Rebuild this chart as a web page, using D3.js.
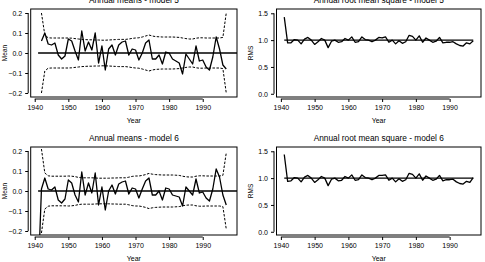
<!DOCTYPE html>
<meta charset="utf-8">
<script src="https://d3js.org/d3.v7.min.js"></script>
<style>
  body { margin: 0; background: #fff; }
  text { font-family: "Liberation Sans", Arial, sans-serif; fill: #000; }
</style>
<body>
<div id="my_dataviz"></div>
<script>

// years
var yearsMean = d3.range(1941, 1998);   // 1941..1997
var yearsRms = d3.range(1941, 1998);

// annual means, model 5 (no value for 1941)
var mean5 = [null,
  0.06, 0.10, 0.045, 0.04, 0.05, -0.01, -0.03, -0.015, 0.07, 0.06,
  0.01, -0.035, 0.11, 0.01, 0.055, 0.015, 0.10, -0.05, 0.035, -0.085,
  0.02, 0.04, -0.01, 0.04, 0.055, 0.06, -0.01, 0.02, 0.015, -0.035,
  0.0, 0.05, 0.065, -0.03, -0.03, -0.01, -0.055, 0.005, 0.0, -0.03,
  -0.04, -0.05, -0.105, -0.005, -0.03, -0.055, 0.035, -0.04, -0.035, -0.07,
  -0.085, -0.02, 0.08, 0.02, -0.06, -0.08];

// annual means, model 6 (1941 far below the plot)
var mean6 = [-0.45,
  0.01, 0.065, 0.01, 0.005, 0.02, -0.045, -0.06, -0.04, 0.055, 0.04,
  -0.02, -0.055, 0.095, -0.02, 0.04, -0.01, 0.09, -0.07, 0.02, -0.095,
  0.0, 0.03, -0.015, 0.035, 0.045, 0.05, -0.015, 0.015, 0.01, -0.035,
  0.01, 0.05, 0.065, -0.02, -0.02, 0.0, -0.045, 0.015, 0.01, -0.02,
  -0.025, -0.03, -0.075, 0.02, 0.0, -0.02, 0.06, -0.01, -0.005, -0.035,
  -0.05, 0.01, 0.11, 0.07, -0.02, -0.07];

// confidence bounds (+/-), model 5 and 6
var bound5 = [null,
  0.20, 0.09, 0.076, 0.075, 0.075, 0.075, 0.075, 0.075, 0.075, 0.074,
  0.072, 0.070, 0.068, 0.067, 0.066, 0.066, 0.065, 0.065, 0.064, 0.064,
  0.065, 0.066, 0.067, 0.068, 0.068, 0.068, 0.070, 0.073, 0.075, 0.076,
  0.080, 0.085, 0.090, 0.085, 0.082, 0.081, 0.080, 0.080, 0.080, 0.080,
  0.079, 0.078, 0.075, 0.072, 0.070, 0.070, 0.074, 0.076, 0.076, 0.075,
  0.075, 0.075, 0.075, 0.075, 0.078, 0.20];
var bound6 = [null,
  0.21, 0.09, 0.076, 0.074, 0.074, 0.074, 0.074, 0.074, 0.075, 0.074,
  0.072, 0.068, 0.066, 0.066, 0.066, 0.066, 0.065, 0.064, 0.064, 0.064,
  0.064, 0.065, 0.065, 0.066, 0.066, 0.066, 0.069, 0.073, 0.075, 0.075,
  0.078, 0.082, 0.088, 0.084, 0.082, 0.081, 0.080, 0.080, 0.080, 0.080,
  0.079, 0.078, 0.074, 0.071, 0.070, 0.070, 0.074, 0.076, 0.076, 0.075,
  0.075, 0.075, 0.075, 0.075, 0.078, 0.19];

// annual root mean square
var rms5 = [1.43,
  0.95, 0.95, 1.01, 1.0, 0.93, 1.02, 1.05, 1.0, 0.92, 0.97,
  1.03, 1.0, 0.86, 0.98, 1.0, 0.96, 0.97, 1.03, 1.0, 1.06,
  0.96, 0.97, 1.06, 1.01, 1.0, 0.97, 1.0, 1.05, 1.04, 1.06,
  0.96, 1.0, 0.93, 0.99, 0.94, 0.97, 1.09, 1.07, 1.0, 1.08,
  0.96, 1.04, 1.0, 0.96, 0.98, 1.05, 0.95, 0.96, 0.96, 0.97,
  0.93, 0.90, 0.89, 0.95, 0.93, 0.99];
var rms6 = [1.44,
  0.94, 0.95, 1.01, 1.0, 0.93, 1.02, 1.05, 1.0, 0.92, 0.97,
  1.03, 1.0, 0.86, 0.98, 1.0, 0.95, 0.96, 1.03, 1.0, 1.06,
  0.96, 0.97, 1.06, 1.01, 1.0, 0.97, 1.0, 1.05, 1.05, 1.06,
  0.96, 1.0, 0.93, 0.99, 0.94, 0.97, 1.09, 1.07, 1.0, 1.08,
  0.96, 1.04, 1.0, 0.96, 0.98, 1.05, 0.95, 0.97, 0.97, 0.98,
  0.93, 0.90, 0.89, 0.94, 0.92, 1.01];

var xTicks = [1940, 1950, 1960, 1970, 1980, 1990];
var meanTicks = [-0.2, -0.1, 0.0, 0.1, 0.2];
var rmsTicks = [0.0, 0.5, 1.0, 1.5];

var W = 485, H = 262;
var svg = d3.select("#my_dataviz").append("svg")
  .attr("width", W).attr("height", H);

// panel boxes
var panels = [
  {x0: 30.7, x1: 237, y0: 9, y1: 97, kind: "mean", title: "Annual means - model 5", vals: mean5, bnd: bound5},
  {x0: 276.5, x1: 481, y0: 9, y1: 97, kind: "rms", title: "Annual root mean square - model 5", vals: rms5},
  {x0: 30.7, x1: 237, y0: 147, y1: 235, kind: "mean", title: "Annual means - model 6", vals: mean6, bnd: bound6},
  {x0: 276.5, x1: 481, y0: 147, y1: 235, kind: "rms", title: "Annual root mean square - model 6", vals: rms6}
];

panels.forEach(function(p, i) {
  var isMean = p.kind == "mean";
  var x = d3.scaleLinear()
    .domain(isMean ? [1938.8, 2000.2] : [1938.7, 1999.3])
    .range([p.x0, p.x1]);
  var y = d3.scaleLinear()
    .domain(isMean ? [-0.22, 0.22] : [-0.06, 1.58])
    .range([p.y1, p.y0]);
  var years = isMean ? yearsMean : yearsRms;

  var clipId = "clip" + i;
  svg.append("clipPath").attr("id", clipId)
    .append("rect")
      .attr("x", p.x0).attr("y", p.y0)
      .attr("width", p.x1 - p.x0).attr("height", p.y1 - p.y0);

  var g = svg.append("g").attr("clip-path", "url(#" + clipId + ")");

  var line = d3.line()
    .defined(function(d) { return d[1] != null; })
    .x(function(d) { return x(d[0]); })
    .y(function(d) { return y(d[1]); });

  if (isMean) {
    // zero line
    g.append("line")
      .attr("x1", x(1941)).attr("x2", x(2000.2))
      .attr("y1", y(0)).attr("y2", y(0))
      .attr("stroke", "#000").attr("stroke-width", 1.3);
    // upper / lower bounds
    [1, -1].forEach(function(s) {
      g.append("path")
        .datum(years.map(function(yr, k) { return [yr, p.bnd[k] == null ? null : s * p.bnd[k]]; }))
        .attr("d", line)
        .attr("fill", "none").attr("stroke", "#000")
        .attr("stroke-width", 1).attr("stroke-dasharray", "2.5,1.5");
    });
  } else {
    g.append("line")
      .attr("x1", x(1941)).attr("x2", x(1997))
      .attr("y1", y(1)).attr("y2", y(1))
      .attr("stroke", "#000").attr("stroke-width", 1.2);
  }

  g.append("path")
    .datum(years.map(function(yr, k) { return [yr, p.vals[k]]; }))
    .attr("d", line)
    .attr("fill", "none").attr("stroke", "#000")
    .attr("stroke-width", 1.3).attr("stroke-linejoin", "round");

  // box
  svg.append("rect")
    .attr("x", p.x0).attr("y", p.y0)
    .attr("width", p.x1 - p.x0).attr("height", p.y1 - p.y0)
    .attr("fill", "none").attr("stroke", "#000").attr("stroke-width", 1);

  // x axis (offset slightly below box)
  var xa = svg.append("g")
    .attr("transform", "translate(0," + (p.y1 + 2) + ")")
    .call(d3.axisBottom(x).tickValues(xTicks).tickSize(3).tickPadding(3)
      .tickFormat(d3.format("d")));
  xa.select(".domain").attr("d", "M" + x(1940) + ",0H" + x(1990));
  xa.selectAll("text").style("font-size", "7px");

  // y axis (offset slightly left of box)
  var yt = isMean ? meanTicks : rmsTicks;
  var ya = svg.append("g")
    .attr("transform", "translate(" + (p.x0 - 2.5) + ",0)")
    .call(d3.axisLeft(y).tickValues(yt).tickSize(3).tickPadding(3)
      .tickFormat(d3.format(".1f")));
  ya.select(".domain").attr("d", "M0," + y(yt[0]) + "V" + y(yt[yt.length - 1]));
  ya.selectAll("text").style("font-size", "7px");

  // titles and labels
  var cx = (p.x0 + p.x1) / 2;
  svg.append("text")
    .attr("x", cx).attr("y", p.y0 - 6)
    .attr("text-anchor", "middle")
    .style("font-size", "8.3px")
    .text(p.title);
  svg.append("text")
    .attr("x", cx).attr("y", p.y1 + 26)
    .attr("text-anchor", "middle")
    .style("font-size", "7px")
    .text("Year");
  svg.append("text")
    .attr("transform", "translate(" + (p.x0 - 24) + "," + ((p.y0 + p.y1) / 2) + ") rotate(-90)")
    .attr("text-anchor", "middle")
    .style("font-size", "6.5px")
    .text(isMean ? "Mean" : "RMS");
});

</script>
</body>
